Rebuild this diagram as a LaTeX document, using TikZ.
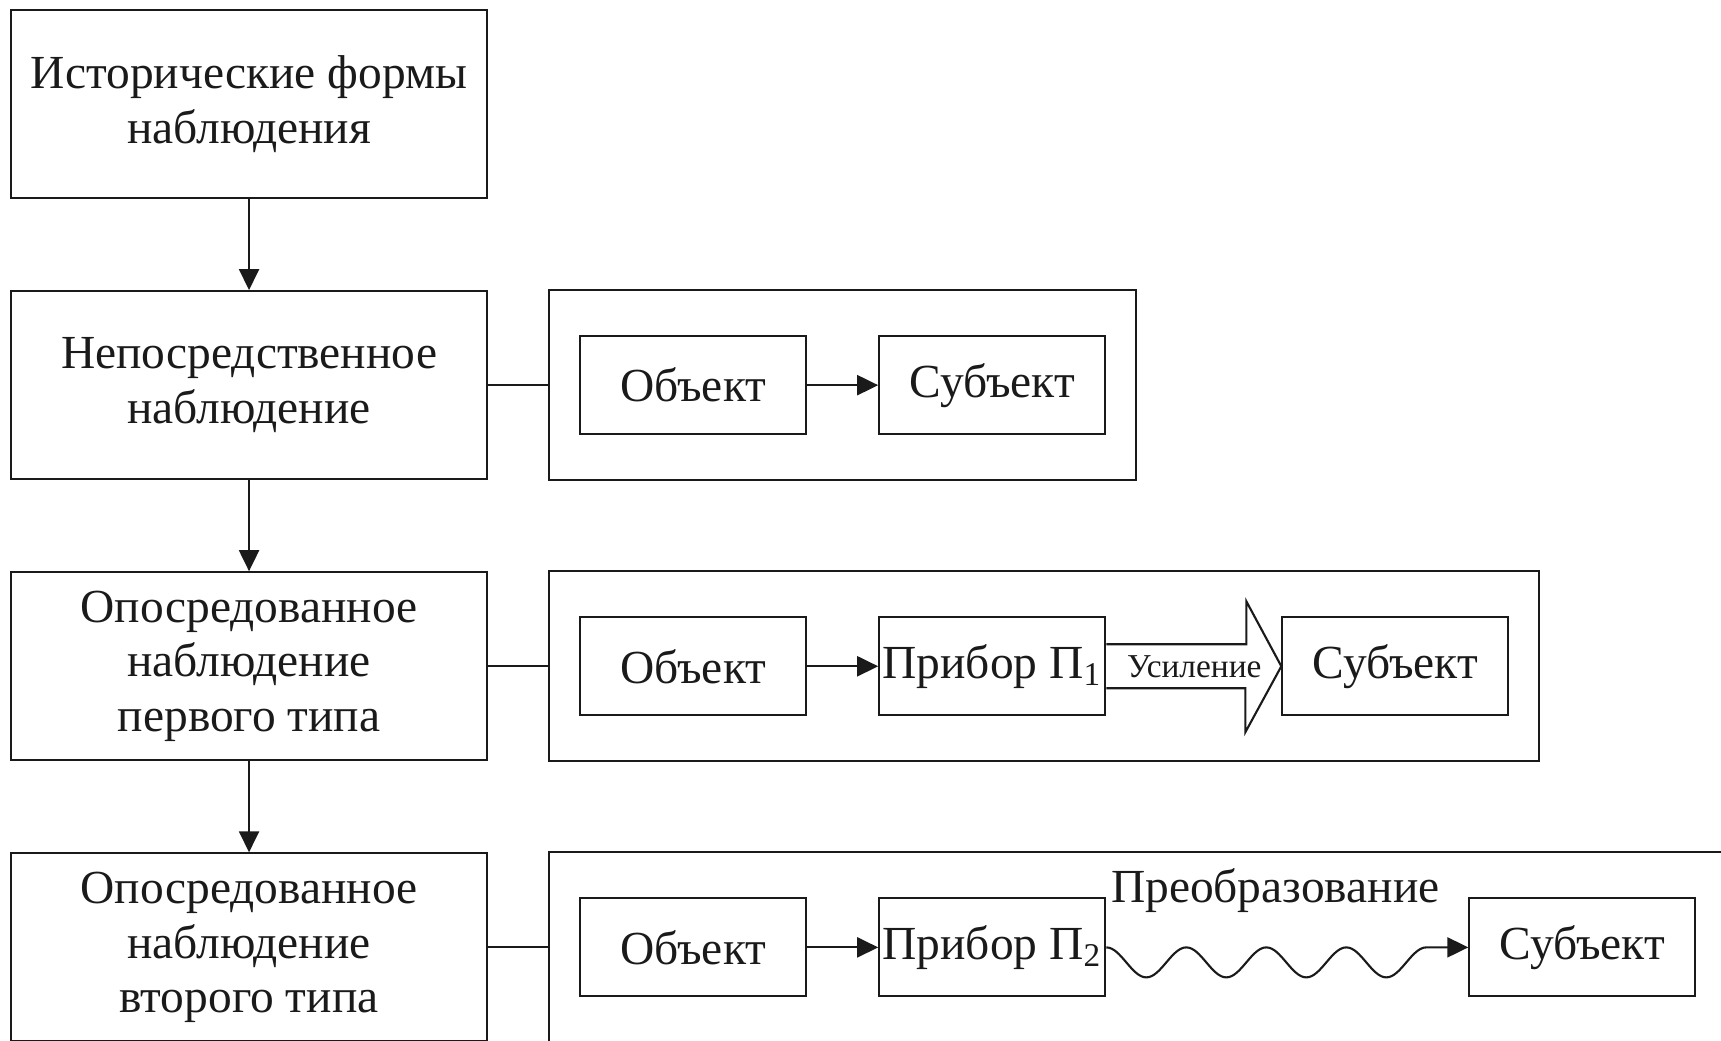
\documentclass[tikz,border=0pt]{standalone}
\usepackage{fontspec}
\setmainfont{Liberation Serif}
\usetikzlibrary{arrows.meta,positioning,fit,calc}
\definecolor{ink}{HTML}{1A1A1A}
\tikzset{
  blk/.style={draw=ink, fill=white, line width=0.6pt, align=center, text=ink,
              font=\fontsize{13.5}{15.6}\selectfont, inner sep=0pt},
  form/.style={blk, minimum width=47.6mm, minimum height=18.8mm},
  unit/.style={blk, minimum width=22.6mm, minimum height=9.8mm},
  grp/.style={draw=ink, line width=0.6pt, inner xsep=3mm, inner ysep=4.5mm},
  arr/.style={-{Triangle[length=2.1mm, width=2mm]}, line width=0.6pt, draw=ink},
  lnk/.style={line width=0.6pt, draw=ink},
  lbl/.style={font=\fontsize{13.5}{15.6}\selectfont, text=ink, inner sep=0pt},
}

\begin{document}
\begin{tikzpicture}[x=0.1mm, y=-0.1mm, node distance=9.1mm]
  \useasboundingbox (0,0) rectangle (1721,1040);
  \clip (0,0) rectangle (1721,1040);
  % forms of observation
  \node[form, anchor=north west] (hist) at (10,9) {Исторические формы\\наблюдения};
  \node[form, below=of hist] (direct) {Непосредственное\\наблюдение};
  \node[form, below=of direct] (med1) {Опосредованное\\наблюдение\\первого типа};
  \node[form, below=of med1] (med2) {Опосредованное\\наблюдение\\второго типа};
  \draw[arr] (hist) -- (direct);
  \draw[arr] (direct) -- (med1);
  \draw[arr] (med1) -- (med2);
  % schemes
  \node[unit, right=of direct] (obj0) {Объект};
  \node[unit, right=7.1mm of obj0] (sub0) {Субъект};
  \node[unit, right=of med1] (obj1) {Объект};
  \node[unit, right=7.1mm of obj1] (prib1) {Прибор П\textsubscript{1}};
  \node[unit, right=17.5mm of prib1] (sub1) {Субъект};
  \node[unit, right=of med2] (obj2) {Объект};
  \node[unit, right=7.1mm of obj2] (prib2) {Прибор П\textsubscript{2}};
  \node[unit, right=36.2mm of prib2] (sub2) {Субъект};
  \node[grp, fit=(obj0)(sub0)] (out0) {};
  \node[grp, fit=(obj1)(sub1)] (out1) {};
  \node[grp, fit=(obj2)(sub2)] (out2) {};
  \draw[lnk] (direct.east) -- (out0.west);
  \draw[lnk] (med1.east) -- (out1.west);
  \draw[lnk] (med2.east) -- (out2.west);
  \draw[arr] (obj0) -- (sub0);
  \draw[arr] (obj1) -- (prib1);
  \draw[arr] (obj2) -- (prib2);
  % amplification arrow
  \draw[lnk, fill=white] ([yshift=2.2mm]prib1.east) -- ++(140,0) -- ++(0,-43) -- (sub1.west)
    -- ++(-36,66) -- ++(0,-44) -- ([yshift=-2.2mm]prib1.east);
  \node[lbl, font=\fontsize{9.5}{11}\selectfont] (amp) at ([xshift=8.8mm]prib1.east) {Усиление};
  % transformation wave
  \draw[arr] (prib2.east) \foreach \k in {1,...,4} {
      cos ++(20,15) sin ++(20,15) cos ++(20,-15) sin ++(20,-15) } -- (sub2.west);
  \node[lbl, anchor=base, xshift=-1.2mm, yshift=-0.5mm] (conv)
    at ($(prib2.north east)!0.5!(sub2.north west)$) {Преобразование};
\end{tikzpicture}
\end{document}
